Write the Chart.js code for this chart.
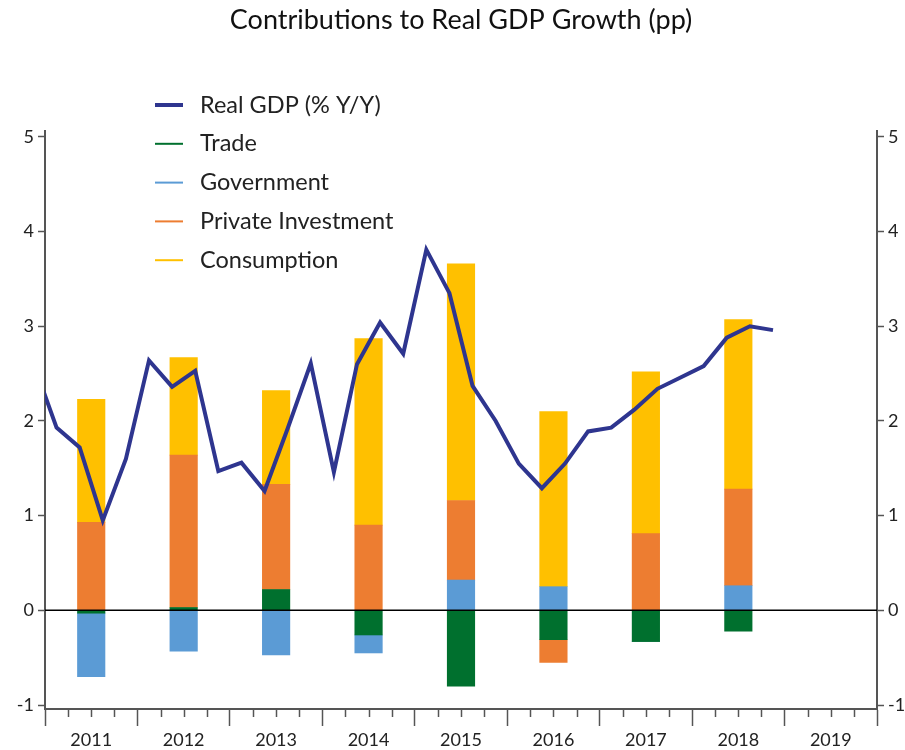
<!DOCTYPE html>
<html>
<head>
<meta charset="utf-8">
<script src="https://cdn.jsdelivr.net/npm/chart.js@4"></script>
<style>
  html, body { margin: 0; padding: 0; background: #fff; }
  #wrap { width: 905px; height: 750px; }
</style>
</head>
<body>
<div id="wrap"><canvas id="gdpChart"></canvas></div>
<script>
// Annual contributions to growth (pp)
const years = [2011, 2012, 2013, 2014, 2015, 2016, 2017, 2018];
const trade = [-0.03, 0.03, 0.22, -0.26, -0.80, -0.31, -0.33, -0.22];
const government = [-0.67, -0.43, -0.47, -0.19, 0.32, 0.25, 0.00, 0.26];
const privateInvestment = [0.93, 1.61, 1.11, 0.90, 0.84, -0.24, 0.81, 1.02];
const consumption = [1.30, 1.03, 0.99, 1.97, 2.50, 1.85, 1.71, 1.79];

// Quarterly real GDP, % Y/Y
const quarters = [
    '2010Q4',
    '2011Q1', '2011Q2', '2011Q3', '2011Q4',
    '2012Q1', '2012Q2', '2012Q3', '2012Q4',
    '2013Q1', '2013Q2', '2013Q3', '2013Q4',
    '2014Q1', '2014Q2', '2014Q3', '2014Q4',
    '2015Q1', '2015Q2', '2015Q3', '2015Q4',
    '2016Q1', '2016Q2', '2016Q3', '2016Q4',
    '2017Q1', '2017Q2', '2017Q3', '2017Q4',
    '2018Q1', '2018Q2', '2018Q3', '2018Q4'
];
const realGdp = [
    2.61,
    1.93, 1.72, 0.95, 1.60,
    2.64, 2.36, 2.53, 1.47,
    1.56, 1.26, 1.92, 2.61,
    1.46, 2.60, 3.04, 2.71,
    3.81, 3.35, 2.37, 2.00,
    1.55, 1.29, 1.55, 1.89,
    1.93, 2.12, 2.34, 2.46,
    2.58, 2.88, 3.00, 2.96
];

const axisYears = [2011, 2012, 2013, 2014, 2015, 2016, 2017, 2018, 2019, 2020];
const yTicks = [-1, 0, 1, 2, 3, 4, 5];

const FONT = 'Lato, "Open Sans", sans-serif';
const AXIS_COLOR = '#555';

const barPoints = values => values.map((v, i) => ({ x: years[i] + 0.5, y: v }));
const quarterToX = q => Number(q.slice(0, 4)) + (Number(q.slice(5)) - 0.5) / 4;

// quarter boundaries used as x ticks
const xTicks = [];
axisYears.forEach((yr, i) => {
    xTicks.push(yr);
    if (i < axisYears.length - 1) [0.25, 0.5, 0.75].forEach(f => xTicks.push(yr + f));
});

const zeroLine = {
    id: 'zeroLine',
    afterDatasetsDraw(chart) {
        const { ctx, chartArea } = chart;
        const y = chart.scales.y.getPixelForValue(0);
        ctx.save();
        ctx.strokeStyle = '#000';
        ctx.lineWidth = 1.5;
        ctx.beginPath();
        ctx.moveTo(chartArea.left, y);
        ctx.lineTo(chartArea.right, y);
        ctx.stroke();
        ctx.restore();
    }
};

const minorTicks = {
    id: 'minorTicks',
    afterDraw(chart) {
        const { ctx, chartArea } = chart;
        const x = chart.scales.x;
        ctx.save();
        ctx.strokeStyle = AXIS_COLOR;
        ctx.lineWidth = 1.5;
        xTicks.filter(v => v % 1 !== 0).forEach(v => {
            const px = Math.round(x.getPixelForValue(v)) + 0.5;
            ctx.beginPath();
            ctx.moveTo(px, chartArea.bottom);
            ctx.lineTo(px, chartArea.bottom + 8);
            ctx.stroke();
        });
        ctx.restore();
    }
};

const boxLegend = {
    id: 'boxLegend',
    afterDraw(chart) {
        const { ctx } = chart;
        ctx.save();
        ctx.font = '23.5px ' + FONT;
        ctx.textBaseline = 'middle';
        chart.data.datasets.forEach((ds, i) => {
            const y = 105 + i * 38.8;
            ctx.strokeStyle = ds.legendColor;
            ctx.lineWidth = ds.type === 'line' ? 4 : 2;
            ctx.beginPath();
            ctx.moveTo(155, y);
            ctx.lineTo(183, y);
            ctx.stroke();
            ctx.fillStyle = '#222';
            ctx.fillText(ds.label, 200, y);
        });
        ctx.restore();
    }
};

const barSet = (label, values, color) => ({
    type: 'bar',
    label: label,
    data: barPoints(values),
    backgroundColor: color,
    legendColor: color,
    yAxisID: 'y',
    barThickness: 27.5,
    borderWidth: 0
});

new Chart(document.getElementById('gdpChart'), {
    type: 'bar',
    data: {
        datasets: [
            {
                type: 'line',
                label: 'Real GDP (% Y/Y)',
                data: quarters.map((q, i) => ({ x: quarterToX(q), y: realGdp[i] })),
                borderColor: '#2E358F',
                legendColor: '#2E358F',
                borderWidth: 4,
                pointRadius: 0,
                tension: 0,
                yAxisID: 'y2',
                clip: 0
            },
            barSet('Trade', trade, '#00702E'),
            barSet('Government', government, '#5B9BD5'),
            barSet('Private Investment', privateInvestment, '#ED7D31'),
            barSet('Consumption', consumption, '#FFC000')
        ]
    },
    options: {
        responsive: true,
        maintainAspectRatio: false,
        animation: false,
        layout: { padding: { left: 17, right: 0, top: 0, bottom: 0 } },
        plugins: {
            legend: { display: false },
            tooltip: { enabled: false },
            title: {
                display: true,
                text: 'Contributions to Real GDP Growth (pp)',
                color: '#111',
                font: { family: FONT, size: 27, weight: 'normal' },
                padding: { top: 4, bottom: 94.6 }
            }
        },
        scales: {
            x: {
                type: 'linear',
                min: 2011,
                max: 2020,
                stacked: true,
                offset: false,
                afterBuildTicks: scale => { scale.ticks = xTicks.map(v => ({ value: v })); },
                afterFit: scale => { scale.height = 41; },
                ticks: {
                    autoSkip: false,
                    maxRotation: 0,
                    padding: 3,
                    color: '#222',
                    font: { family: FONT, size: 18 },
                    callback: v => (v % 1 === 0.5 ? String(v - 0.5) : '')
                },
                grid: {
                    offset: false,
                    drawOnChartArea: false,
                    tickLength: 17,
                    tickWidth: 1.5,
                    tickColor: ctx => (ctx.tick && ctx.tick.value % 1 === 0 ? AXIS_COLOR : 'rgba(0,0,0,0)')
                },
                border: { color: AXIS_COLOR, width: 2 }
            },
            y: {
                position: 'left',
                stacked: true,
                min: -1.042,
                max: 5.063,
                afterBuildTicks: scale => { scale.ticks = yTicks.map(v => ({ value: v })); },
                afterFit: scale => { scale.width = 28; },
                ticks: {
                    padding: 4,
                    color: '#222',
                    font: { family: FONT, size: 18 }
                },
                grid: { drawOnChartArea: false, tickLength: 7, tickColor: AXIS_COLOR, tickWidth: 1.5 },
                border: { color: AXIS_COLOR, width: 2 }
            },
            y2: {
                position: 'right',
                min: -1.042,
                max: 5.063,
                afterBuildTicks: scale => { scale.ticks = yTicks.map(v => ({ value: v })); },
                afterFit: scale => { scale.width = 28; },
                ticks: {
                    padding: 4,
                    color: '#222',
                    font: { family: FONT, size: 18 }
                },
                grid: { drawOnChartArea: false, tickLength: 7, tickColor: AXIS_COLOR, tickWidth: 1.5 },
                border: { color: AXIS_COLOR, width: 2 }
            }
        }
    },
    plugins: [zeroLine, minorTicks, boxLegend]
});
</script>
</body>
</html>
